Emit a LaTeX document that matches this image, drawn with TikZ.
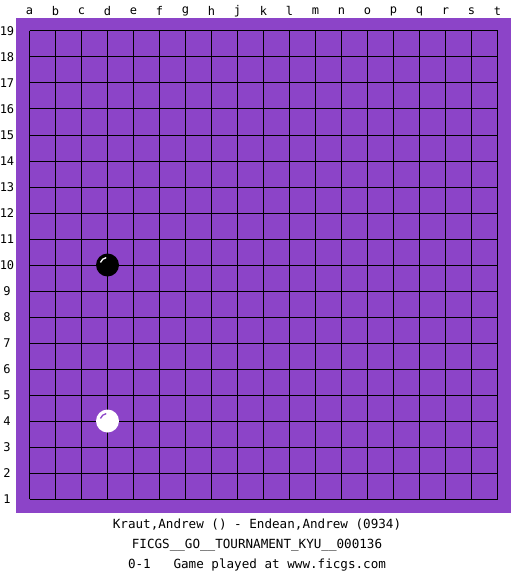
\documentclass[tikz,border=0pt]{standalone}
\usepackage{fontspec}
\newfontfamily\monofont{DejaVu Sans Mono}
\definecolor{boardpurple}{RGB}{140,68,200}
\tikzset{
  lbl/.style={font=\monofont\fontsize{12}{14}\selectfont, inner sep=0pt, text=black},
  info/.style={font=\monofont\fontsize{12.6}{14}\selectfont, inner sep=0pt, text=black},
  gridline/.style={draw=black, line width=1pt},
  blackstone/.style={circle, fill=black, minimum size=23pt, inner sep=0pt},
  whitestone/.style={circle, fill=white, minimum size=23pt, inner sep=0pt},
}
\begin{document}
\begin{tikzpicture}[x=1pt,y=-1pt]
\useasboundingbox (0,0) rectangle (525,575);
\fill[white] (0,0) rectangle (525,575);
\fill[boardpurple] (16,18) rectangle (511,513);
% grid
\foreach \i in {0,...,18} {
  \draw[gridline] ({29.5+26*\i},31) -- ({29.5+26*\i},499);
  \draw[gridline] (29.5,{31+26*\i}) -- (497.5,{31+26*\i});
}
% column labels
\foreach \l [count=\i from 0] in {a,b,c,d,e,f,g,h,j,k,l,m,n,o,p,q,r,s,t} {
  \node[lbl] (col\l) at ({29.5+26*\i},11) {\l};
}
% row labels
\foreach \n [count=\i from 0] in {19,18,...,1} {
  \node[lbl] (row\n) at (7,{31+26*\i}) {\n};
}
% stones
\node[blackstone] (d10) at (107.5,265) {};
\draw[white, line width=1.3pt] (d10.center) ++(200:7.5) arc[start angle=200, end angle=260, radius=7.5];
\node[whitestone] (d4) at (107.5,421) {};
\draw[boardpurple, line width=1.3pt] (d4.center) ++(200:7.5) arc[start angle=200, end angle=260, radius=7.5];
% info text
\node[info] (players) at (257,525) {Kraut,Andrew () - Endean,Andrew (0934)};
\node[info] (event) at (257,545) {FICGS\_\_GO\_\_TOURNAMENT\_KYU\_\_000136};
\node[info] (result) at (257,565) {0-1\ \ \ Game played at www.ficgs.com};
\end{tikzpicture}
\end{document}
